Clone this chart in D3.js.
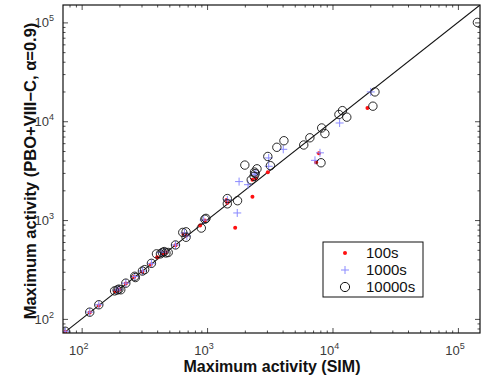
<!DOCTYPE html>
<html>
<head>
<meta charset="utf-8">
<script src="https://cdn.jsdelivr.net/npm/d3@7"></script>
<style>
  body { margin: 0; background: #fff; }
  svg { display: block; font-family: Arial, "Liberation Sans", sans-serif; }
</style>
</head>
<body>
<div id="chart"></div>
<script>
// data: [SIM, PBO+VIII-C]
const series100s = [
  [74, 74], [116, 116], [137, 137], [185, 190], [195, 195], [200, 198], [225, 228],
  [262, 265], [305, 300], [355, 355], [400, 420], [440, 460], [470, 470], [560, 555],
  [650, 720], [680, 700], [880, 880], [960, 990], [1430, 1600], [1450, 1500],
  [1675, 835], [2300, 1720], [2300, 2560], [2450, 2650], [3050, 3050],
  [7400, 3840], [7800, 4750], [19000, 13600]
];
const series1000s = [
  [74, 75], [116, 117], [137, 139], [190, 195], [198, 200], [225, 230], [265, 268],
  [305, 305], [360, 362], [430, 470], [460, 475], [560, 560], [660, 740], [690, 690],
  [940, 1000], [1450, 1600], [1740, 1180], [1800, 2450], [2120, 2280], [2400, 2900],
  [2450, 3000], [3100, 4250], [3100, 3500], [4050, 5200], [7250, 4020], [7950, 4790],
  [11400, 9600], [20200, 19800]
];
const series10000s = [
  [74, 75], [116, 117], [137, 139], [183, 192], [192, 196], [198, 200], [205, 197],
  [225, 230], [265, 270], [268, 262], [305, 305], [318, 315], [360, 365], [395, 455],
  [425, 455], [440, 470], [455, 480], [470, 465], [490, 470], [560, 560], [640, 750],
  [680, 760], [680, 670], [900, 830], [960, 1020], [980, 1040], [1450, 1650],
  [1450, 1460], [1750, 1570], [2000, 3600], [2250, 2550], [2370, 2770], [2420, 2950],
  [2390, 3060], [2500, 3300], [3050, 4400], [3200, 3550], [3600, 5450], [4100, 6350],
  [5900, 5750], [6600, 6800], [8200, 8550], [8700, 7500], [8100, 3800], [11250, 11700],
  [12000, 12800], [13000, 11000], [21800, 19800], [21000, 14200], [143000, 100000]
];
const xDomain = [71, 150000];
const yDomain = [72, 150000];
const decades = [1e2, 1e3, 1e4, 1e5];
const legendLabels = ['100s', '1000s', '10000s'];

const width = 482, height = 377;
const box = { left: 63, right: 480, top: 5, bottom: 333 };

const svg = d3.select('#chart').append('svg')
  .attr('width', width)
  .attr('height', height);

const x = d3.scaleLog().domain(xDomain).range([box.left, box.right]);
const y = d3.scaleLog().domain(yDomain).range([box.bottom, box.top]);

const minorX = x.ticks().filter(v => !decades.includes(v));
const minorY = y.ticks().filter(v => !decades.includes(v));

// ticks on all four sides, pointing inward
function tickAxis(axisFn, scale, values, size, transform) {
  svg.append('g')
    .attr('transform', transform)
    .call(axisFn(scale).tickValues(values).tickSize(-size).tickFormat('').tickSizeOuter(0))
    .call(g => g.select('.domain').remove())
    .call(g => g.selectAll('line').attr('stroke', '#222').attr('stroke-width', 0.8));
}
tickAxis(d3.axisBottom, x, decades, 5, `translate(0,${box.bottom})`);
tickAxis(d3.axisBottom, x, minorX, 2.5, `translate(0,${box.bottom})`);
tickAxis(d3.axisTop, x, decades, 5, `translate(0,${box.top})`);
tickAxis(d3.axisTop, x, minorX, 2.5, `translate(0,${box.top})`);
tickAxis(d3.axisLeft, y, decades, 5, `translate(${box.left},0)`);
tickAxis(d3.axisLeft, y, minorY, 2.5, `translate(${box.left},0)`);
tickAxis(d3.axisRight, y, decades, 5, `translate(${box.right},0)`);
tickAxis(d3.axisRight, y, minorY, 2.5, `translate(${box.right},0)`);

// tick labels as 10^n
const xl = svg.append('g').selectAll('text')
  .data(decades.filter(d => x(d) <= box.right))
  .enter().append('text')
  .attr('x', d => x(d) - 3)
  .attr('y', 355)
  .attr('text-anchor', 'middle')
  .attr('font-size', 13)
  .attr('fill', '#3a3a3a');
xl.append('tspan').text('10');
xl.append('tspan').attr('dy', -6).attr('font-size', 9).text(d => Math.round(Math.log10(d)));

const yl = svg.append('g').selectAll('text')
  .data(decades)
  .enter().append('text')
  .attr('x', 54)
  .attr('y', d => y(d) + 5)
  .attr('text-anchor', 'end')
  .attr('font-size', 13)
  .attr('fill', '#3a3a3a');
yl.append('tspan').text('10');
yl.append('tspan').attr('dy', -6).attr('font-size', 9).text(d => Math.round(Math.log10(d)));

// clip area
svg.append('clipPath').attr('id', 'clip')
  .append('rect')
  .attr('x', box.left).attr('y', box.top)
  .attr('width', box.right - box.left).attr('height', box.bottom - box.top);

const plot = svg.append('g').attr('clip-path', 'url(#clip)');

// y = x reference line
plot.append('line')
  .attr('x1', x(xDomain[0])).attr('y1', y(xDomain[0]))
  .attr('x2', x(xDomain[1])).attr('y2', y(xDomain[1]))
  .attr('stroke', '#111')
  .attr('stroke-width', 1.1);

plot.selectAll('.dot')
  .data(series100s)
  .enter().append('circle')
  .attr('class', 'dot')
  .attr('cx', d => x(d[0]))
  .attr('cy', d => y(d[1]))
  .attr('r', 2)
  .attr('fill', '#ff1010');

plot.selectAll('.plus')
  .data(series1000s)
  .enter().append('path')
  .attr('class', 'plus')
  .attr('d', d => {
    const px = x(d[0]), py = y(d[1]);
    return `M${px - 4},${py}H${px + 4}M${px},${py - 4}V${py + 4}`;
  })
  .attr('stroke', '#8a8aff')
  .attr('stroke-width', 1);

plot.selectAll('.ring')
  .data(series10000s)
  .enter().append('circle')
  .attr('class', 'ring')
  .attr('cx', d => x(d[0]))
  .attr('cy', d => y(d[1]))
  .attr('r', 4.2)
  .attr('fill', 'none')
  .attr('stroke', '#111')
  .attr('stroke-width', 0.9);

// frame
svg.append('rect')
  .attr('x', box.left).attr('y', box.top)
  .attr('width', box.right - box.left).attr('height', box.bottom - box.top)
  .attr('fill', 'none')
  .attr('stroke', '#111')
  .attr('stroke-width', 1.2);

// axis labels
svg.append('text')
  .attr('x', 272)
  .attr('y', 372)
  .attr('text-anchor', 'middle')
  .attr('font-size', 16)
  .attr('font-weight', 'bold')
  .attr('fill', '#111')
  .text('Maximum activity (SIM)');

svg.append('text')
  .attr('transform', 'translate(36,171) rotate(-90)')
  .attr('text-anchor', 'middle')
  .attr('font-size', 16.5)
  .attr('font-weight', 'bold')
  .attr('fill', '#111')
  .text('Maximum activity (PBO+VIII\u2212C, \u03b1=0.9)');

// legend
const legend = svg.append('g').attr('transform', 'translate(323,242)');
legend.append('rect')
  .attr('width', 100).attr('height', 55)
  .attr('fill', '#fff')
  .attr('stroke', '#111')
  .attr('stroke-width', 1);

const rowY = [11, 28, 45];
legend.append('circle').attr('cx', 22).attr('cy', rowY[0]).attr('r', 2).attr('fill', '#ff1010');
legend.append('path')
  .attr('d', `M18,${rowY[1]}H26M22,${rowY[1] - 4}V${rowY[1] + 4}`)
  .attr('stroke', '#8a8aff');
legend.append('circle').attr('cx', 22).attr('cy', rowY[2]).attr('r', 4.6)
  .attr('fill', 'none').attr('stroke', '#111').attr('stroke-width', 1);

legend.selectAll('.lbl')
  .data(legendLabels)
  .enter().append('text')
  .attr('class', 'lbl')
  .attr('x', 43)
  .attr('y', (d, i) => rowY[i] + 5)
  .attr('font-size', 15)
  .attr('fill', '#111')
  .text(d => d);
</script>
</body>
</html>
